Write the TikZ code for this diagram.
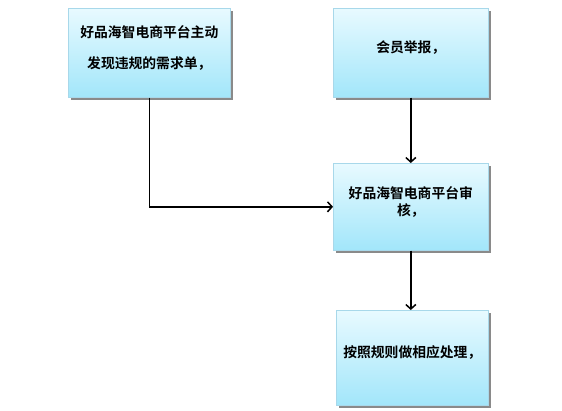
\documentclass[tikz,border=0pt]{standalone}
\usepackage{fontspec}
\newfontfamily\cjk{Noto Sans CJK SC}[BoldFont={Noto Sans CJK SC Bold}]
\usetikzlibrary{arrows.meta,shadows}
\definecolor{boxtop}{HTML}{E8FAFF}
\definecolor{boxbot}{HTML}{A2E6FA}
\definecolor{boxline}{HTML}{A8D8EA}
\tikzset{
  flowbox/.style={draw=boxline, line width=0.6pt, top color=boxtop, bottom color=boxbot,
    anchor=north west, inner sep=0pt,
    drop shadow={shadow xshift=2.5pt, shadow yshift=-2.5pt, opacity=0.7, fill=black!65}},
  boxtext/.style={font=\cjk\bfseries\fontsize{13.8}{17}\selectfont, align=center, text=black, inner sep=0pt},
  flowarrow/.style={line width=1.6pt, -{Straight Barb[length=4.5pt,width=10pt,line width=1.5pt]}}
}
\begin{document}
\begin{tikzpicture}[x=1pt,y=-1pt]
\useasboundingbox[fill=white] (0,0) rectangle (562,410);
\node[flowbox, minimum width=162pt, minimum height=89pt] (b1) at (68,8) {};
\node[flowbox, minimum width=155pt, minimum height=89pt] (b2) at (333,8) {};
\node[flowbox, minimum width=155pt, minimum height=87pt] (b3) at (333,163) {};
\node[flowbox, minimum width=152pt, minimum height=95pt] (b4) at (336,310) {};
\node[boxtext] (t1) at ([yshift=5pt]b1.center) {好品海智电商平台主动\\[14pt]发现违规的需求单，};
\node[boxtext] (t2) at ([yshift=5pt]b2.center) {会员举报，};
\node[boxtext] (t3) at ([yshift=5pt]b3.center) {好品海智电商平台审\\核，};
\node[boxtext] (t4) at ([yshift=5pt]b4.center) {按照规则做相应处理，};
\draw[flowarrow] (b1.south) |- (b3.west);
\draw[flowarrow] (b2.south) -- (b3.north);
\draw[flowarrow] (b3.south) -- (b3.south |- b4.north);
\end{tikzpicture}
\end{document}
